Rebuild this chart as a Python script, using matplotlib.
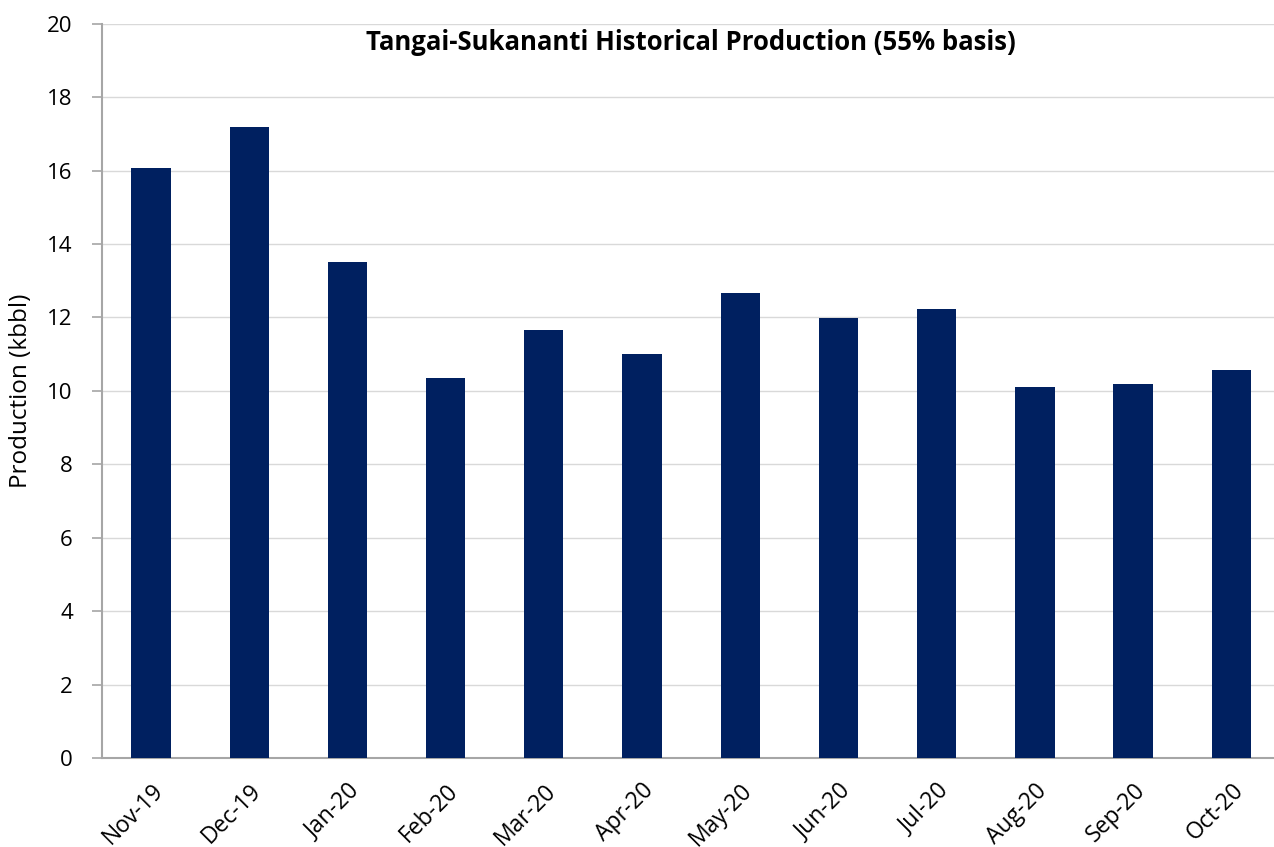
import matplotlib.pyplot as plt

months = ['Nov-19', 'Dec-19', 'Jan-20', 'Feb-20', 'Mar-20', 'Apr-20',
          'May-20', 'Jun-20', 'Jul-20', 'Aug-20', 'Sep-20', 'Oct-20']
production = [16.08, 17.2, 13.5, 10.35, 11.66, 11.01,
              12.67, 11.98, 12.22, 10.1, 10.19, 10.56]

plt.rcParams['font.family'] = ['Open Sans', 'DejaVu Sans']

fig = plt.figure(figsize=(12.74, 8.47), dpi=100)
ax = fig.add_axes([0.080, 0.105, 0.925, 0.867])

x = list(range(len(months)))
ax.bar(x, production, width=0.4, color='#002060', zorder=3)

ax.set_xlim(-0.5, len(months) - 0.5)
ax.set_ylim(0, 20)
ax.set_yticks(range(0, 21, 2))
ax.yaxis.grid(True, color='#d9d9d9', linewidth=1, zorder=0)

ax.set_xticks(x)
ax.set_xticklabels(months, rotation=45, ha='right', rotation_mode='anchor', fontsize=16.5)
ax.tick_params(axis='x', length=0, pad=15)
ax.tick_params(axis='y', labelsize=16, length=7, color='#a6a6a6', width=1.2, pad=14)

for s in ['top', 'right']:
    ax.spines[s].set_visible(False)
for s in ['left', 'bottom']:
    ax.spines[s].set_color('#a6a6a6')
    ax.spines[s].set_linewidth(1.5)

ax.set_ylabel('Production (kbbl)', fontsize=17.5, labelpad=10)
ax.text(0.5, 0.993, 'Tangai-Sukananti Historical Production (55% basis)',
        transform=ax.transAxes, ha='center', va='top', fontsize=18.5, fontweight='bold')

fig.savefig('out.png', dpi=100)
